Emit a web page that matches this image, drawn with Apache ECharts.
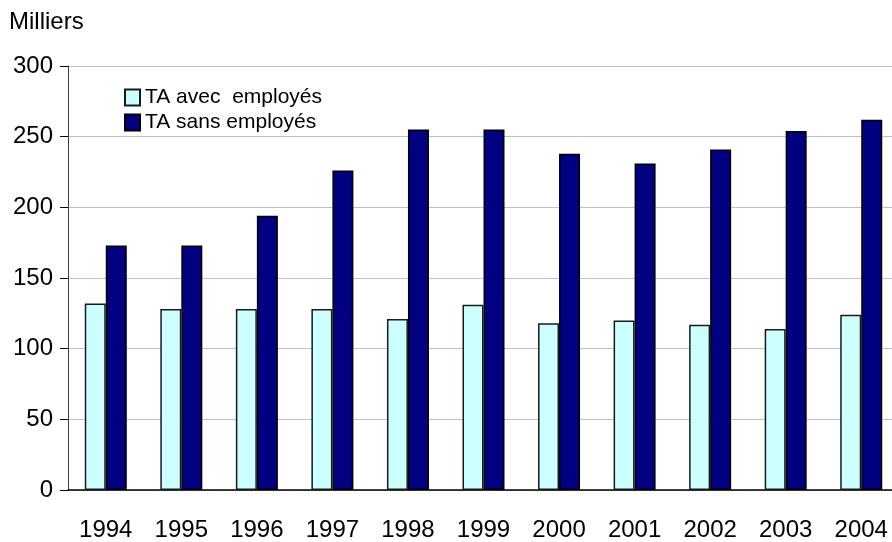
<!DOCTYPE html>
<html><head><meta charset="utf-8">
<script src="https://cdn.jsdelivr.net/npm/echarts@6/dist/echarts.min.js"></script>
<style>html,body{margin:0;padding:0;background:#fff;overflow:hidden;width:892px;height:542px}#c{width:900px;height:542px}</style>
</head><body><div id="c"></div>
<script>
const years = ['1994','1995','1996','1997','1998','1999','2000','2001','2002','2003','2004'];
const avecEmployes = [132,128,128,128,121,131,118,120,117,114,124];
const sansEmployes = [173,173,194,226,255,255,238,231,241,254,262];
const yTicks = {min:0, max:300, interval:50};
const unitLabel = 'Milliers';
const seriesNames = ['TA avec  employés','TA sans employés'];

const chart = echarts.init(document.getElementById('c'), null, {renderer:'canvas'});
const font = 'Liberation Sans, Arial, sans-serif';
chart.setOption({
  animation:false,
  backgroundColor:'#fff',
  graphic:[{type:'text', left:9, top:10, style:{text:unitLabel, fontSize:24, fontFamily:font, fill:'#000'}}],
  legend:{
    orient:'vertical', left:119, top:82, itemWidth:15, itemHeight:16, itemGap:4,
    icon:'rect',
    textStyle:{fontSize:21, fontFamily:font, color:'#000'},
    data:seriesNames
  },
  grid:{left:68, right:1, top:66, bottom:51, containLabel:false},
  xAxis:{
    type:'category', data:years,
    axisLine:{lineStyle:{color:'#000', width:1.5}},
    axisTick:{show:false},
    axisLabel:{fontSize:24, fontFamily:font, color:'#000', margin:28}
  },
  yAxis:{
    type:'value', min:yTicks.min, max:yTicks.max, interval:yTicks.interval,
    axisLine:{show:true, lineStyle:{color:'#404040', width:1}},
    axisTick:{show:true, length:8, lineStyle:{color:'#000'}},
    axisLabel:{fontSize:24, fontFamily:font, color:'#000', margin:15},
    splitLine:{lineStyle:{color:'#c0c0c0', width:1}}
  },
  series:[
    {name:seriesNames[0], type:'bar', data:avecEmployes, barWidth:21, barGap:'0%',
     itemStyle:{color:'#CCFFFF', borderColor:'#1a1a1a', borderWidth:1.5}},
    {name:seriesNames[1], type:'bar', data:sansEmployes, barWidth:21, barGap:'0%',
     itemStyle:{color:'#000080', borderColor:'#000', borderWidth:1.5}}
  ]
});
</script></body></html>
